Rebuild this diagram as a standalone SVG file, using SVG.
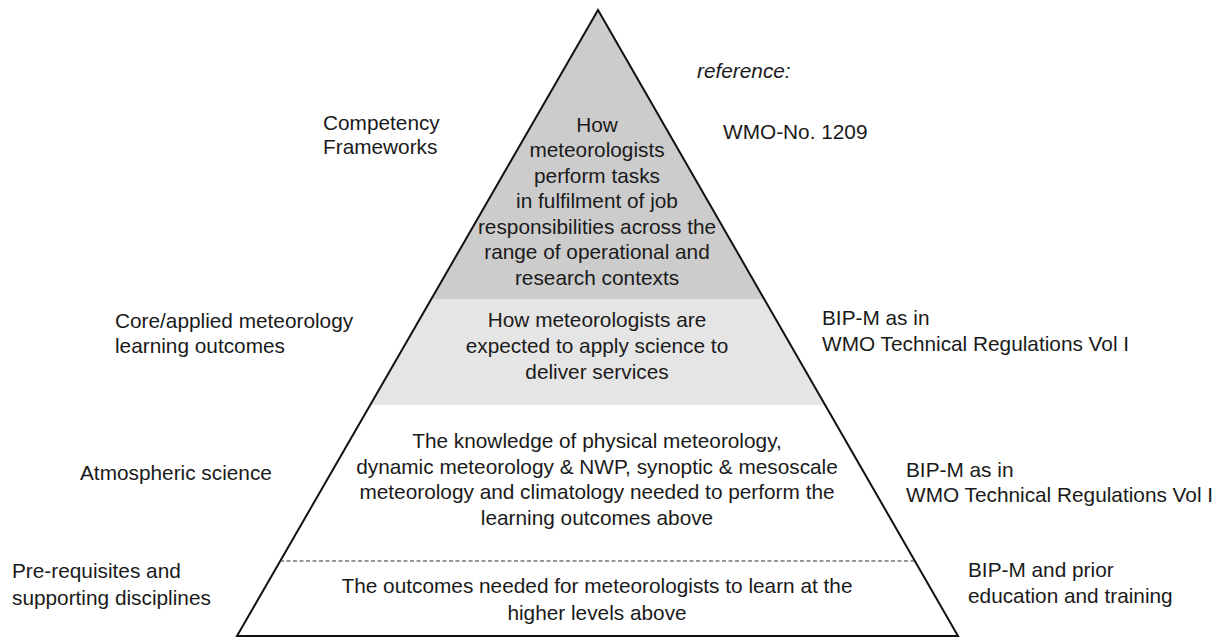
<svg xmlns="http://www.w3.org/2000/svg" width="1225" height="637" viewBox="0 0 1225 637">
<style>
text{font-family:"Liberation Sans",Arial,sans-serif;font-size:20.8px;fill:#1a1a1a}
.c{text-anchor:middle}
.i{font-style:italic}
.edge{fill:none;stroke:#111;stroke-width:2;stroke-linejoin:miter}
.dash{stroke:#333;stroke-width:1;stroke-dasharray:4 2.5}
</style>
<rect width="1225" height="637" fill="#fff"/>
<g id="pyramid">
<g id="tier-competency">
<polygon points="598,10 431.3,299 764.7,299" fill="#cccccc"/>
<text class="c" x="597" y="132">How</text>
<text class="c" x="597" y="157">meteorologists</text>
<text class="c" x="597" y="183">perform tasks</text>
<text class="c" x="597" y="208">in fulfilment of job</text>
<text class="c" x="597" y="234">responsibilities across the</text>
<text class="c" x="597" y="259">range of operational and</text>
<text class="c" x="597" y="285">research contexts</text>
</g>
<g id="tier-applied">
<polygon points="431.3,299 764.7,299 825.8,405 370.2,405" fill="#e5e5e5"/>
<text class="c" x="597" y="327">How meteorologists are</text>
<text class="c" x="597" y="353">expected to apply science to</text>
<text class="c" x="597" y="379">deliver services</text>
</g>
<g id="tier-science">
<text class="c" x="597" y="448">The knowledge of physical meteorology,</text>
<text class="c" x="597" y="474">dynamic meteorology &amp; NWP, synoptic &amp; mesoscale</text>
<text class="c" x="597" y="499">meteorology and climatology needed to perform the</text>
<text class="c" x="597" y="525">learning outcomes above</text>
</g>
<g id="tier-prereq">
<text class="c" x="597" y="593">The outcomes needed for meteorologists to learn at the</text>
<text class="c" x="597" y="620">higher levels above</text>
</g>
<polygon class="edge" points="598,10 237,636 958,636"/>
</g>
<g id="connectors">
<line class="dash" x1="280" y1="561" x2="916" y2="561"/>
</g>
<g id="label-competency"><text x="323" y="130">Competency</text><text x="323" y="154">Frameworks</text></g>
<g id="label-reference"><text class="i" x="697" y="78">reference:</text></g>
<g id="label-wmo1209"><text x="723" y="139">WMO-No. 1209</text></g>
<g id="label-core"><text x="115" y="328">Core/applied meteorology</text><text x="115" y="353">learning outcomes</text></g>
<g id="label-bipm1"><text x="822" y="325">BIP-M as in</text><text x="822" y="351">WMO Technical Regulations Vol I</text></g>
<g id="label-atmos"><text x="80" y="480">Atmospheric science</text></g>
<g id="label-bipm2"><text x="906" y="477">BIP-M as in</text><text x="906" y="502">WMO Technical Regulations Vol I</text></g>
<g id="label-prereq"><text x="12" y="578">Pre-requisites and</text><text x="12" y="605">supporting disciplines</text></g>
<g id="label-bipm3"><text x="968" y="577">BIP-M and prior</text><text x="968" y="603">education and training</text></g>
</svg>
